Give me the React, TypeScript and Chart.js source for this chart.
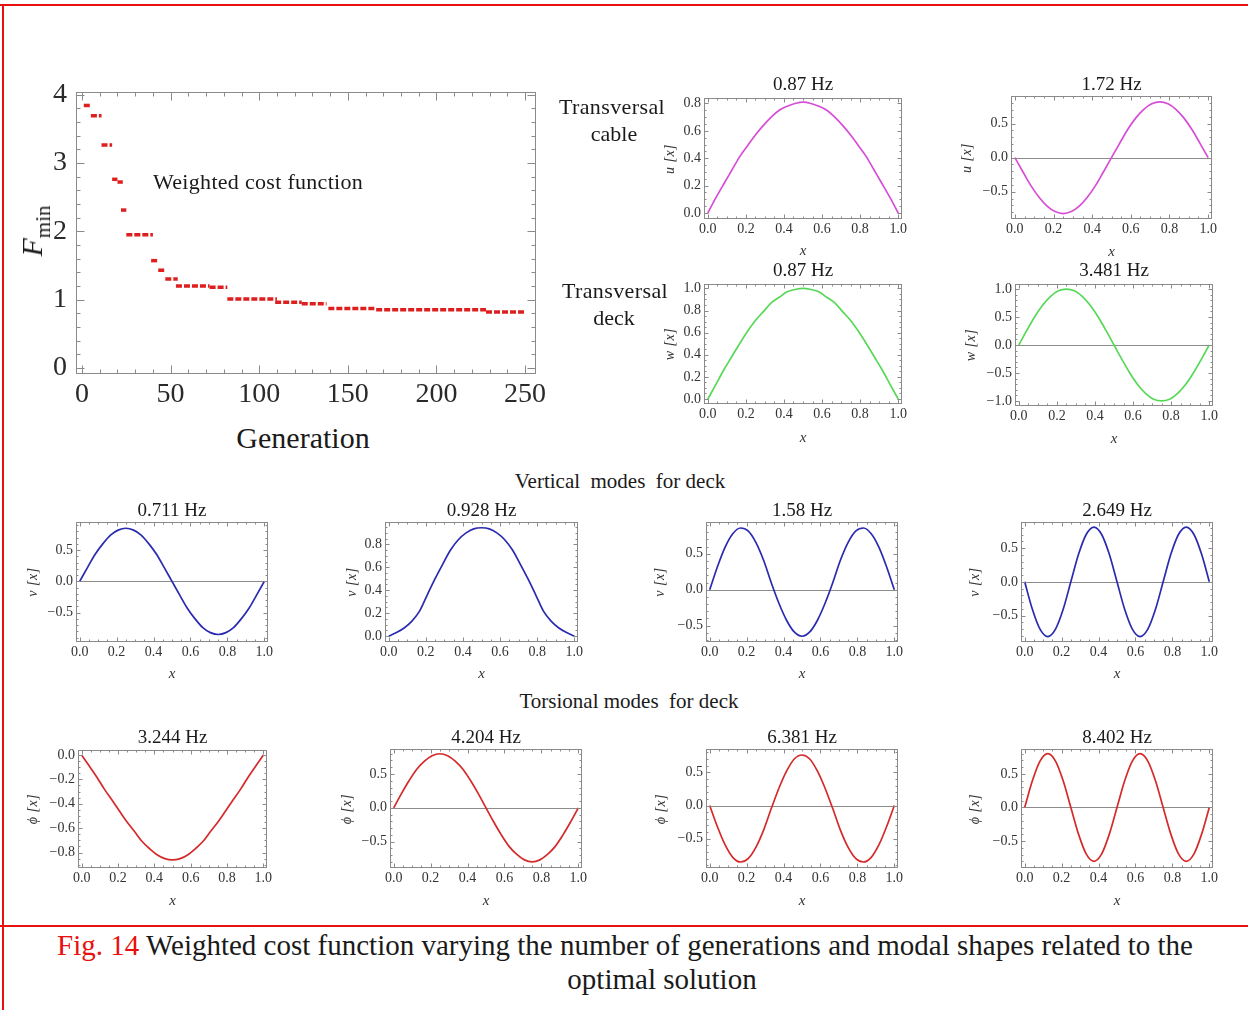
import React, { useEffect, useRef } from "react";
import { Chart, registerables } from "chart.js";

Chart.register(...registerables);

const SERIF = '"Liberation Serif", "Times New Roman", Times, serif';

// ---------- Weighted cost function (best F_min per generation, constant runs) ----------
const runStartGen = [1, 5, 11, 17, 20, 22, 25, 39, 43, 47, 53, 72, 82, 109, 124, 139, 166, 228];
const runEndGen = [5, 11, 17, 20, 23, 25, 40, 43, 47, 54, 72, 82, 110, 124, 138, 166, 228, 250];
const runFmin = [3.84, 3.69, 3.26, 2.76, 2.72, 2.31, 1.95, 1.57, 1.43, 1.3, 1.2, 1.18, 1.01, 0.96, 0.94, 0.87, 0.85, 0.82];
const genTicks = [0, 50, 100, 150, 200, 250];
const fminTicks = [0, 1, 2, 3, 4];

// ---------- Modal shapes (x along span) ----------
const xs = [0, 0.042, 0.083, 0.125, 0.167, 0.208, 0.25, 0.292, 0.333, 0.375, 0.417, 0.458, 0.5,
  0.542, 0.583, 0.625, 0.667, 0.708, 0.75, 0.792, 0.833, 0.875, 0.917, 0.958, 1];
const xTickVals = [0, 0.2, 0.4, 0.6, 0.8, 1];

const uCable1 = [0, 0.11, 0.21, 0.31, 0.41, 0.49, 0.57, 0.64, 0.70, 0.75, 0.78, 0.80, 0.81, 0.80, 0.78, 0.75, 0.70, 0.64, 0.57, 0.49, 0.41, 0.31, 0.21, 0.11, 0];
const uCable2 = [0, -0.21, -0.41, -0.58, -0.71, -0.79, -0.82, -0.79, -0.71, -0.58, -0.41, -0.21, 0, 0.21, 0.41, 0.58, 0.71, 0.79, 0.82, 0.79, 0.71, 0.58, 0.41, 0.21, 0];
const wDeck1 = [0, 0.13, 0.26, 0.38, 0.50, 0.61, 0.71, 0.79, 0.87, 0.92, 0.97, 0.99, 1.00, 0.99, 0.97, 0.92, 0.87, 0.79, 0.71, 0.61, 0.50, 0.38, 0.26, 0.13, 0];
const wDeck2 = [0, 0.26, 0.50, 0.71, 0.87, 0.97, 1.00, 0.97, 0.87, 0.71, 0.50, 0.26, 0, -0.26, -0.50, -0.71, -0.87, -0.97, -1.00, -0.97, -0.87, -0.71, -0.50, -0.26, 0];
const vDeck1 = [0, 0.22, 0.43, 0.60, 0.74, 0.82, 0.85, 0.82, 0.74, 0.60, 0.43, 0.22, 0, -0.22, -0.43, -0.60, -0.74, -0.82, -0.85, -0.82, -0.74, -0.60, -0.43, -0.22, 0];
const vDeck2 = [0, 0.03, 0.07, 0.13, 0.22, 0.36, 0.50, 0.63, 0.75, 0.84, 0.90, 0.935, 0.945, 0.935, 0.90, 0.84, 0.75, 0.63, 0.50, 0.36, 0.22, 0.13, 0.07, 0.03, 0];
const vDeck3 = [0, 0.32, 0.59, 0.78, 0.86, 0.82, 0.66, 0.41, 0.10, -0.19, -0.43, -0.59, -0.65, -0.59, -0.43, -0.19, 0.10, 0.41, 0.66, 0.82, 0.86, 0.78, 0.59, 0.32, 0];
const vDeck4 = [0, -0.41, -0.70, -0.81, -0.70, -0.41, 0, 0.41, 0.70, 0.81, 0.70, 0.41, 0, -0.41, -0.70, -0.81, -0.70, -0.41, 0, 0.41, 0.70, 0.81, 0.70, 0.41, 0];
const phiDeck1 = [0, -0.09, -0.18, -0.28, -0.37, -0.46, -0.55, -0.63, -0.71, -0.77, -0.82, -0.85, -0.86, -0.85, -0.82, -0.77, -0.71, -0.63, -0.55, -0.46, -0.37, -0.28, -0.18, -0.09, 0];
const phiDeck2 = [0, 0.21, 0.40, 0.57, 0.69, 0.77, 0.80, 0.77, 0.69, 0.57, 0.40, 0.21, 0, -0.21, -0.40, -0.57, -0.69, -0.77, -0.80, -0.77, -0.69, -0.57, -0.40, -0.21, 0];
const phiDeck3 = [0, -0.32, -0.59, -0.78, -0.85, -0.80, -0.63, -0.37, -0.05, 0.26, 0.52, 0.70, 0.76, 0.70, 0.52, 0.26, -0.05, -0.37, -0.63, -0.80, -0.85, -0.78, -0.59, -0.32, 0];
const phiDeck4 = [0, 0.40, 0.69, 0.80, 0.69, 0.40, 0, -0.40, -0.69, -0.80, -0.69, -0.40, 0, 0.40, 0.69, 0.80, 0.69, 0.40, 0, -0.40, -0.69, -0.80, -0.69, -0.40, 0];

const MAGENTA = "#d64ed6";
const GREEN = "#58d858";
const BLUE = "#2b2bb0";
const RED = "#d42a2a";

const fmt1 = (v: number) => (v < -1e-9 ? "\u2212" : "") + Math.abs(v).toFixed(1);
const fmt0 = (v: number) => String(Math.round(v));

function minorVals(min: number, max: number, step: number, majors: number[]) {
  const out: number[] = [];
  for (let k = Math.ceil(min / step - 1e-6); k * step <= max + 1e-9; k++) {
    const v = k * step;
    if (!majors.some((m) => Math.abs(m - v) < 1e-6)) out.push(v);
  }
  return out;
}

const framePlugin = {
  id: "mframe",
  beforeDatasetsDraw(chart: any, _a: any, o: any) {
    if (!o || !o.zeroLine) return;
    const { ctx, chartArea: a } = chart;
    const py = Math.round(chart.scales.y.getPixelForValue(0)) + 0.5;
    ctx.save();
    ctx.strokeStyle = o.axisColor;
    ctx.lineWidth = 1;
    ctx.beginPath();
    ctx.moveTo(a.left, py);
    ctx.lineTo(a.right, py);
    ctx.stroke();
    ctx.restore();
  },
  afterDraw(chart: any, _a: any, o: any) {
    const { ctx, chartArea: a } = chart;
    const sx = chart.scales.x;
    const sy = chart.scales.y;
    const L = Math.round(a.left) + 0.5;
    const R = Math.round(a.right) - 0.5;
    const T = Math.round(a.top) + 0.5;
    const B = Math.round(a.bottom) - 0.5;
    ctx.save();
    ctx.strokeStyle = o.frameColor;
    ctx.lineWidth = 1;
    ctx.strokeRect(L, T, R - L, B - T);
    const drawX = (vals: number[], len: number) => {
      vals.forEach((v) => {
        const px = Math.round(sx.getPixelForValue(v)) + 0.5;
        if (px < L - 0.1 || px > R + 0.1) return;
        ctx.beginPath();
        ctx.moveTo(px, B);
        ctx.lineTo(px, B - len);
        ctx.moveTo(px, T);
        ctx.lineTo(px, T + len);
        ctx.stroke();
      });
    };
    const drawY = (vals: number[], len: number) => {
      vals.forEach((v) => {
        const py = Math.round(sy.getPixelForValue(v)) + 0.5;
        if (py < T - 0.1 || py > B + 0.1) return;
        ctx.beginPath();
        ctx.moveTo(L, py);
        ctx.lineTo(L + len, py);
        ctx.moveTo(R, py);
        ctx.lineTo(R - len, py);
        ctx.stroke();
      });
    };
    drawX(o.xMajor, o.majorLen);
    drawX(o.xMinor, o.minorLen);
    drawY(o.yMajor, o.majorLen);
    drawY(o.yMinor, o.minorLen);
    ctx.restore();
  },
};

type PlotCfg = {
  left: number; top: number; width: number; height: number;
  xMin: number; xMax: number; yMin: number; yMax: number;
  xTicks: number[]; yTicks: number[]; xMinorStep: number; yMinorStep: number;
  fmtX: (v: number) => string; fmtY: (v: number) => string;
  font: number; tickColor: string;
  padL: number; padR: number; padT: number; padB: number;
  xPad: number; yPad: number; majorLen: number; minorLen: number;
  zeroLine: boolean; datasets: any[];
};

function Plot({ cfg }: { cfg: PlotCfg }) {
  const ref = useRef<HTMLCanvasElement>(null);
  const cw = cfg.padL + cfg.width + cfg.padR;
  const ch = cfg.padT + cfg.height + cfg.padB;
  useEffect(() => {
    if (!ref.current) return;
    const tickFont = { family: SERIF, size: cfg.font, lineHeight: 1 };
    const chart = new Chart(ref.current, {
      type: "line",
      data: { datasets: cfg.datasets },
      options: {
        animation: false,
        responsive: false,
        maintainAspectRatio: false,
        devicePixelRatio: 1,
        events: [],
        layout: { padding: { left: 0, top: cfg.padT, right: cfg.padR, bottom: 0 } },
        plugins: {
          legend: { display: false },
          tooltip: { enabled: false },
          title: { display: false },
          mframe: {
            zeroLine: cfg.zeroLine,
            axisColor: "#8c8c8c",
            frameColor: "#8a8a8a",
            xMajor: cfg.xTicks,
            yMajor: cfg.yTicks,
            xMinor: minorVals(cfg.xMin, cfg.xMax, cfg.xMinorStep, cfg.xTicks),
            yMinor: minorVals(cfg.yMin, cfg.yMax, cfg.yMinorStep, cfg.yTicks),
            majorLen: cfg.majorLen,
            minorLen: cfg.minorLen,
          },
        } as any,
        scales: {
          x: {
            type: "linear",
            position: "bottom",
            min: cfg.xMin,
            max: cfg.xMax,
            grid: { display: false, drawTicks: false },
            border: { display: false },
            afterBuildTicks: (s: any) => {
              s.ticks = cfg.xTicks.map((v) => ({ value: v }));
            },
            afterFit: (s: any) => {
              s.height = cfg.padB;
            },
            ticks: {
              font: tickFont,
              color: cfg.tickColor,
              padding: cfg.xPad,
              autoSkip: false,
              maxRotation: 0,
              minRotation: 0,
              callback: (v: any) => cfg.fmtX(Number(v)),
            },
          },
          y: {
            type: "linear",
            position: "left",
            min: cfg.yMin,
            max: cfg.yMax,
            grid: { display: false, drawTicks: false },
            border: { display: false },
            afterBuildTicks: (s: any) => {
              s.ticks = cfg.yTicks.map((v) => ({ value: v }));
            },
            afterFit: (s: any) => {
              s.width = cfg.padL;
            },
            ticks: {
              font: tickFont,
              color: cfg.tickColor,
              padding: cfg.yPad,
              autoSkip: false,
              callback: (v: any) => cfg.fmtY(Number(v)),
            },
          },
        },
      } as any,
      plugins: [framePlugin as any],
    });
    return () => chart.destroy();
  }, []);
  return (
    <canvas
      ref={ref}
      width={cw}
      height={ch}
      style={{ position: "absolute", left: cfg.left - cfg.padL, top: cfg.top - cfg.padT, width: cw, height: ch }}
    />
  );
}

function modeCfg(
  left: number, top: number, width: number, height: number,
  yMin: number, yMax: number, yTicks: number[], ys: number[], color: string, zero: boolean
): PlotCfg {
  return {
    left, top, width, height,
    xMin: -0.02, xMax: 1.02, yMin, yMax,
    xTicks: xTickVals, yTicks,
    xMinorStep: 0.05,
    yMinorStep: yTicks[1] - yTicks[0] > 0.3 ? 0.1 : 0.05,
    fmtX: fmt1, fmtY: fmt1,
    font: 14, tickColor: "#333",
    padL: 50, padR: 25, padT: 15, padB: 25,
    xPad: 3, yPad: 3, majorLen: 4, minorLen: 2,
    zeroLine: zero,
    datasets: [
      {
        data: xs.map((x, i) => ({ x, y: ys[i] })),
        borderColor: color,
        borderWidth: 1.7,
        pointRadius: 0,
        cubicInterpolationMode: "monotone",
        fill: false,
      },
    ],
  };
}

const mainCfg: PlotCfg = {
  left: 76, top: 92, width: 460, height: 282,
  xMin: -3.4, xMax: 256.2, yMin: -0.088, yMax: 4.037,
  xTicks: genTicks, yTicks: fminTicks, xMinorStep: 10, yMinorStep: 0.2,
  fmtX: fmt0, fmtY: fmt0,
  font: 28, tickColor: "#2a2a2a",
  padL: 70, padR: 30, padT: 25, padB: 45,
  xPad: 7, yPad: 9, majorLen: 8, minorLen: 4,
  zeroLine: false,
  datasets: runStartGen.map((g, i) => ({
    data: [
      { x: g, y: runFmin[i] },
      { x: runEndGen[i], y: runFmin[i] },
    ],
    borderColor: "#dd1f1f",
    borderWidth: 3.5,
    borderDash: [6, 2],
    pointRadius: 0,
    tension: 0,
    fill: false,
  })),
};

const modePlots: PlotCfg[] = [
  modeCfg(704, 98, 198, 121, -0.044, 0.84, [0, 0.2, 0.4, 0.6, 0.8], uCable1, MAGENTA, false),
  modeCfg(1011, 96, 201, 123, -0.9, 0.905, [-0.5, 0, 0.5], uCable2, MAGENTA, true),
  modeCfg(704, 284, 198, 120, -0.045, 1.04, [0, 0.2, 0.4, 0.6, 0.8, 1.0], wDeck1, GREEN, false),
  modeCfg(1015, 284, 198, 122, -1.09, 1.09, [-1, -0.5, 0, 0.5, 1], wDeck2, GREEN, true),
  modeCfg(76, 522, 192, 120, -0.97, 0.95, [-0.5, 0, 0.5], vDeck1, BLUE, true),
  modeCfg(385, 522, 193, 120, -0.052, 0.995, [0, 0.2, 0.4, 0.6, 0.8], vDeck2, BLUE, false),
  modeCfg(706, 522, 192, 120, -0.73, 0.944, [-0.5, 0, 0.5], vDeck3, BLUE, true),
  modeCfg(1021, 522, 192, 120, -0.89, 0.885, [-0.5, 0, 0.5], vDeck4, BLUE, true),
  modeCfg(78, 750, 189, 118, -0.927, 0.041, [-0.8, -0.6, -0.4, -0.2, 0], phiDeck1, RED, false),
  modeCfg(390, 749, 192, 119, -0.89, 0.87, [-0.5, 0, 0.5], phiDeck2, RED, true),
  modeCfg(706, 749, 192, 119, -0.94, 0.85, [-0.5, 0, 0.5], phiDeck3, RED, true),
  modeCfg(1021, 749, 192, 119, -0.9, 0.87, [-0.5, 0, 0.5], phiDeck4, RED, true),
];

const plotTitles = ["0.87 Hz", "1.72 Hz", "0.87 Hz", "3.481 Hz", "0.711 Hz", "0.928 Hz", "1.58 Hz", "2.649 Hz", "3.244 Hz", "4.204 Hz", "6.381 Hz", "8.402 Hz"];
const plotYLabels = ["u [x]", "u [x]", "w [x]", "w [x]", "v [x]", "v [x]", "v [x]", "v [x]", "\u03d5 [x]", "\u03d5 [x]", "\u03d5 [x]", "\u03d5 [x]"];
const yLabelX = [670, 967, 670, 971, 33, 352, 660, 975, 33, 347, 661, 975];
const titleY = [83, 83, 269, 269, 509, 509, 509, 509, 736, 736, 736, 736];
const xLabelY = [250, 251, 437, 438, 673, 673, 673, 673, 900, 900, 900, 900];

function T(props: {
  x: number; y: number; size: number; children: any; rot?: number; italic?: boolean;
  color?: string; anchor?: "start" | "middle"; spacing?: number;
}) {
  const tx = props.anchor === "start" ? "0" : "-50%";
  return (
    <div
      style={{
        position: "absolute",
        left: props.x,
        top: props.y,
        transform: `translate(${tx}, -50%)${props.rot ? ` rotate(${props.rot}deg)` : ""}`,
        fontSize: props.size,
        lineHeight: 1,
        whiteSpace: "pre",
        fontStyle: props.italic ? "italic" : "normal",
        color: props.color || "#1a1a1a",
        fontFamily: SERIF,
        letterSpacing: props.spacing || 0,
      }}
    >
      {props.children}
    </div>
  );
}

export default function App() {
  return (
    <div
      style={{
        position: "absolute",
        left: 0,
        top: 0,
        width: 1248,
        height: 1010,
        background: "#ffffff",
        overflow: "hidden",
        fontFamily: SERIF,
      }}
    >
      {/* red frame lines */}
      <div style={{ position: "absolute", left: 0, top: 4, width: 1248, height: 2, background: "#e81010" }} />
      <div style={{ position: "absolute", left: 2, top: 4, width: 2, height: 1006, background: "#e81010" }} />
      <div style={{ position: "absolute", left: 0, top: 925, width: 1248, height: 2, background: "#e81010" }} />

      <Plot cfg={mainCfg} />
      {modePlots.map((c, i) => (
        <Plot key={i} cfg={c} />
      ))}

      {/* main chart texts */}
      <T x={153} y={182} size={22} anchor="start" spacing={0.3}>Weighted cost function</T>
      <T x={303} y={438} size={30}>Generation</T>
      <T x={32} y={231} size={30} rot={-90}>
        <span style={{ fontStyle: "italic" }}>F</span>
        <span style={{ fontSize: 21, position: "relative", top: 8 }}>min</span>
      </T>

      {/* group labels */}
      <T x={612} y={107} size={22} spacing={0.4}>Transversal</T>
      <T x={614} y={134} size={22}>cable</T>
      <T x={615} y={291} size={22} spacing={0.4}>Transversal</T>
      <T x={614} y={318} size={22}>deck</T>
      <T x={620} y={481} size={21}>Vertical  modes  for deck</T>
      <T x={629} y={701} size={21}>Torsional modes  for deck</T>

      {/* sub-plot titles and axis labels */}
      {modePlots.map((c, i) => (
        <React.Fragment key={"t" + i}>
          <T x={c.left + c.width / 2} y={titleY[i]} size={19}>{plotTitles[i]}</T>
          <T x={c.left + c.width / 2} y={xLabelY[i]} size={15} italic color="#333">x</T>
          <T x={yLabelX[i]} y={c.top + c.height / 2} size={14} italic rot={-90} color="#333" spacing={0.5}>
            {plotYLabels[i]}
          </T>
        </React.Fragment>
      ))}

      {/* caption */}
      <T x={625} y={945} size={29}>
        <span style={{ color: "#e81010" }}>Fig. 14</span> Weighted cost function varying the number of generations and modal shapes related to the
      </T>
      <T x={662} y={979} size={29}>optimal solution</T>
    </div>
  );
}
